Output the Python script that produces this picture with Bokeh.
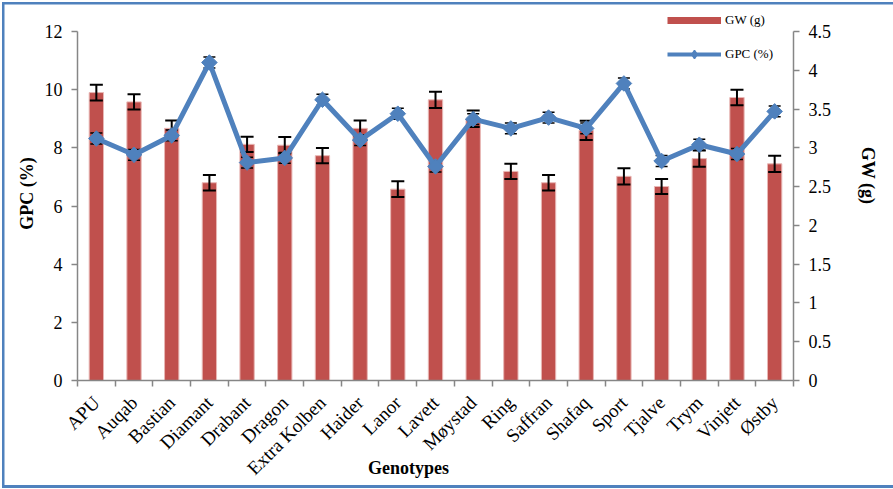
import math
import numpy as np
from bokeh.plotting import figure
from bokeh.models import (Range1d, LinearAxis, FixedTicker, ColumnDataSource,
                          Legend, LegendItem)
from bokeh.embed import file_html
from bokeh.resources import INLINE

# Genotypes and measured traits
genotypes = ["APU", "Auqab", "Bastian", "Diamant", "Drabant", "Dragon",
             "Extra Kolben", "Haider", "Lanor", "Lavett", "Møystad", "Ring",
             "Saffran", "Shafaq", "Sport", "Tjalve", "Trym", "Vinjett", "Østby"]
gw = [9.90, 9.58, 8.67, 6.80, 8.12, 8.09, 7.73, 8.67, 6.58, 9.65,
      9.00, 7.19, 6.80, 8.60, 7.02, 6.67, 7.63, 9.73, 7.45]
gw_err = [0.27, 0.26, 0.27, 0.27, 0.26, 0.28, 0.26, 0.27, 0.27, 0.28,
          0.28, 0.26, 0.27, 0.33, 0.28, 0.26, 0.28, 0.27, 0.28]
gpc = [3.12, 2.91, 3.16, 4.10, 2.81, 2.87, 3.62, 3.10, 3.44, 2.76,
       3.37, 3.25, 3.39, 3.25, 3.83, 2.83, 3.04, 2.92, 3.47]
gpc_err = [0.07, 0.07, 0.07, 0.07, 0.07, 0.07, 0.07, 0.07, 0.07, 0.07,
           0.07, 0.07, 0.07, 0.07, 0.07, 0.07, 0.07, 0.07, 0.07]
left_ticks = [0, 2, 4, 6, 8, 10, 12]
right_ticks = [0, 0.5, 1, 1.5, 2, 2.5, 3, 3.5, 4, 4.5]
right_labels = ["0", "0.5", "1", "1.5", "2", "2.5", "3", "3.5", "4", "4.5"]

SERIF = "Liberation Serif"
AXIS_GREY = "#868686"
BAR_RED = "#C0504D"
LINE_BLUE = "#4F81BD"
NBSP = "\u00a0"

# layout (pixels): plot area spans x 77..793; value axes run from y 380 up to 31,
# the frame itself reaches a little higher so the legend fits inside it
W, H = 893, 489
FRAME_L, FRAME_R, AXIS_TOP, FRAME_B, FRAME_T = 77, 793, 31, 380, 6
left_max, right_max = 12, 4.5
extra = (AXIS_TOP - FRAME_T) / (FRAME_B - AXIS_TOP)

n = len(genotypes)
xs = [i + 0.5 for i in range(n)]

src = ColumnDataSource(dict(
    x=xs, gw=gw,
    gw_lo=[v - e for v, e in zip(gw, gw_err)],
    gw_hi=[v + e for v, e in zip(gw, gw_err)],
    gpc=gpc,
    gpc_lo=[v - e for v, e in zip(gpc, gpc_err)],
    gpc_hi=[v + e for v, e in zip(gpc, gpc_err)],
))

p = figure(width=W, height=H, output_backend="svg", toolbar_location=None,
           x_range=Range1d(0, n),
           y_range=Range1d(0, left_max * (1 + extra)),
           min_border_left=FRAME_L, min_border_right=W - FRAME_R,
           min_border_top=FRAME_T, min_border_bottom=H - FRAME_B)
p.extra_y_ranges = {"right": Range1d(0, right_max * (1 + extra))}
p.xgrid.visible = False
p.ygrid.visible = False
p.outline_line_color = None
p.background_fill_color = None
p.border_fill_color = None
# white page with a thin blue frame along the left, top and bottom edges
p.styles = {
    "background-color": "white",
    "box-shadow": ("inset 2px 0 0 0 white, inset 0 2px 0 0 white, "
                   "inset 0 -1px 0 0 white, inset 4.5px 0 0 0 #4F81BD, "
                   "inset 0 4.5px 0 0 #4F81BD, inset 0 -4px 0 0 #4F81BD"),
}

# x axis: names centred on each bar, tick marks on the category boundaries
xa = p.xaxis[0]
xa.ticker = FixedTicker(ticks=xs, minor_ticks=list(range(n + 1)))
xa.major_label_overrides = {x: g for x, g in zip(xs, genotypes)}
xa.major_label_orientation = math.pi / 4
xa.major_tick_out = 0
xa.major_tick_in = 0
xa.minor_tick_out = 6
xa.minor_tick_in = 0
xa.minor_tick_line_color = AXIS_GREY
xa.minor_tick_line_width = 1.5
xa.axis_line_color = AXIS_GREY
xa.axis_line_width = 1.5
xa.major_label_standoff = 13
xa.major_label_text_font = SERIF
xa.major_label_text_font_size = "19px"
xa.major_label_text_color = "black"
xa.axis_label = "Genotypes" + NBSP * 12
xa.axis_label_text_font = SERIF
xa.axis_label_text_font_size = "18px"
xa.axis_label_text_font_style = "bold"
xa.axis_label_text_color = "black"
xa.axis_label_standoff = -31

ya = p.yaxis[0]
ya.ticker = FixedTicker(ticks=left_ticks)
ya.bounds = (0, left_max)
ya.major_tick_out = 6
ya.major_tick_in = 0
ya.minor_tick_out = 0
ya.minor_tick_in = 0
ya.major_tick_line_color = AXIS_GREY
ya.major_tick_line_width = 1.5
ya.axis_line_color = AXIS_GREY
ya.axis_line_width = 1.5
ya.major_label_standoff = 9
ya.major_label_text_font = SERIF
ya.major_label_text_font_size = "18px"
ya.major_label_text_color = "black"
ya.axis_label = "GPC (%)"
ya.axis_label_text_font = SERIF
ya.axis_label_text_font_size = "18px"
ya.axis_label_text_font_style = "bold"
ya.axis_label_text_color = "black"
ya.axis_label_standoff = 5

ra = LinearAxis(y_range_name="right", ticker=FixedTicker(ticks=right_ticks),
                bounds=(0, right_max))
ra.major_label_overrides = {t: s for t, s in zip(right_ticks, right_labels)}
ra.major_tick_out = 6
ra.major_tick_in = 0
ra.minor_tick_out = 0
ra.minor_tick_in = 0
ra.major_tick_line_color = AXIS_GREY
ra.major_tick_line_width = 1.5
ra.axis_line_color = AXIS_GREY
ra.axis_line_width = 1.5
ra.major_label_standoff = 9
ra.major_label_text_font = SERIF
ra.major_label_text_font_size = "18px"
ra.major_label_text_color = "black"
ra.axis_label = "GW (g)" + NBSP * 8
ra.axis_label_text_font = SERIF
ra.axis_label_text_font_size = "18px"
ra.axis_label_text_font_style = "bold"
ra.axis_label_text_color = "black"
ra.axis_label_standoff = 24
p.add_layout(ra, "right")

# bars with error bars
p.vbar(x="x", top="gw", width=0.38, source=src, fill_color=BAR_RED,
       line_color="#E8B7B5", line_width=1)
p.segment(x0="x", y0="gw_lo", x1="x", y1="gw_hi", source=src,
          line_color="black", line_width=2)
p.scatter(x="x", y="gw_lo", source=src, marker="dash", size=13,
          line_color="black", line_width=2)
p.scatter(x="x", y="gw_hi", source=src, marker="dash", size=13,
          line_color="black", line_width=2)

# line series with its own small error bars
p.segment(x0="x", y0="gpc_lo", x1="x", y1="gpc_hi", source=src,
          line_color="black", line_width=1.5, y_range_name="right")
p.scatter(x="x", y="gpc_lo", source=src, marker="dash", size=12,
          line_color="black", line_width=1.5, y_range_name="right")
p.scatter(x="x", y="gpc_hi", source=src, marker="dash", size=12,
          line_color="black", line_width=1.5, y_range_name="right")
p.line(x="x", y="gpc", source=src, line_color=LINE_BLUE, line_width=5,
       y_range_name="right")
p.scatter(x="x", y="gpc", source=src, marker="square", angle=math.pi / 4,
          size=11, fill_color=LINE_BLUE, line_color=LINE_BLUE,
          y_range_name="right")

# legend swatches (renderers with no drawable points)
blank = ColumnDataSource(dict(x=np.array([0.5]), y=np.array([np.nan])))
leg_bar = p.line(x="x", y="y", source=blank, line_color=BAR_RED, line_width=7)
leg_line = p.line(x="x", y="y", source=blank, line_color=LINE_BLUE, line_width=4)
leg_mark = p.scatter(x="x", y="y", source=blank, marker="diamond",
                     fill_color=LINE_BLUE, line_color=LINE_BLUE, line_width=1.5)
legend = Legend(items=[LegendItem(label="GW (g)", renderers=[leg_bar]),
                       LegendItem(label="GPC (%)", renderers=[leg_line, leg_mark])],
                location=(590, 316), orientation="vertical",
                glyph_width=54, glyph_height=20, label_height=20,
                label_standoff=4, spacing=14, padding=0, margin=0,
                label_text_font=SERIF, label_text_font_size="13px",
                label_text_color="black",
                background_fill_alpha=0, border_line_color=None)
p.add_layout(legend, "center")

open("out.html", "w").write(file_html(p, INLINE))
